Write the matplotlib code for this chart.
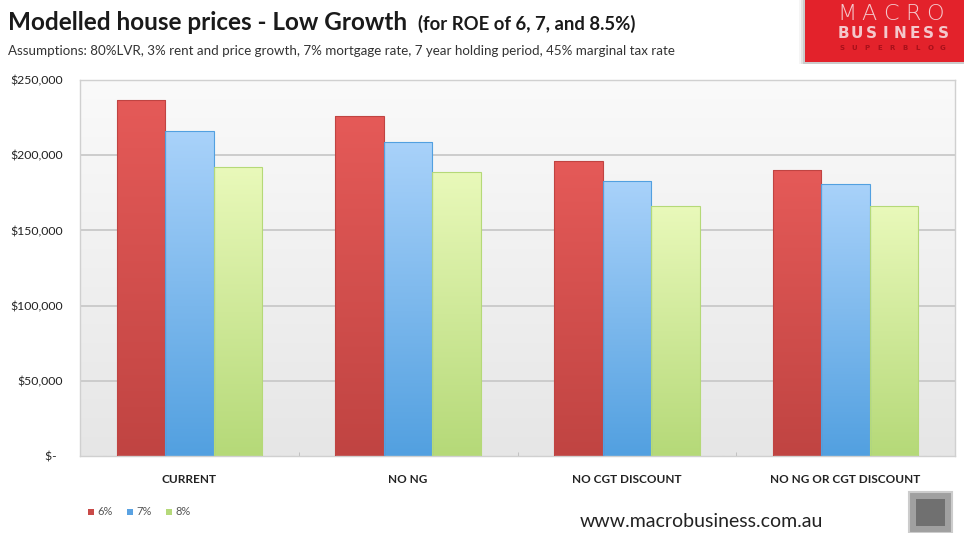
import numpy as np
import matplotlib
matplotlib.use("Agg")
import matplotlib.pyplot as plt
from matplotlib.colors import LinearSegmentedColormap
from matplotlib.patches import Rectangle

# ---- data ----
categories = ["CURRENT", "NO NG", "NO CGT DISCOUNT", "NO NG OR CGT DISCOUNT"]
series_names = ["6%", "7%", "8%"]
roe_6 = [237000, 226000, 196000, 190000]
roe_7 = [216000, 209000, 183000, 181000]
roe_8 = [192000, 189000, 166000, 166000]
ytick_values = [0, 50000, 100000, 150000, 200000, 250000]
ytick_labels = ["$-  ", "$50,000", "$100,000", "$150,000", "$200,000", "$250,000"]

series = [roe_6, roe_7, roe_8]
# (top colour, bottom colour, legend colour)
palette = [
    ("#e55a58", "#c04442", "#c94a48"),
    ("#a9d2fa", "#52a0e0", "#5aa2e2"),
    ("#e9f9ba", "#b5d978", "#b5d97a"),
]

plt.rcParams["font.family"] = ["Lato", "DejaVu Sans"]

W, H = 964, 533
fig = plt.figure(figsize=(W / 100, H / 100), dpi=100)
fig.patch.set_facecolor("white")


def px(x, y, w, h):
    return [x / W, 1 - (y + h) / H, w / W, h / H]


ax = fig.add_axes(px(80, 80, 875, 376))
n_cat = len(categories)
x = np.arange(n_cat)
bw = 0.222

ax.set_xlim(-0.5, n_cat - 0.5)
ax.set_ylim(0, 250000)

# plot area background gradient
bg = np.linspace(0, 1, 256).reshape(-1, 1)
bg_cmap = LinearSegmentedColormap.from_list("bg", ["#e6e6e6", "#fafafa"])
ax.imshow(bg, extent=[-0.5, n_cat - 0.5, 0, 250000], aspect="auto",
          cmap=bg_cmap, origin="lower", zorder=0)

for v in ytick_values[1:]:
    ax.axhline(v, color="#c9c9c9", lw=1.3, zorder=1)

grad = np.linspace(0, 1, 256).reshape(-1, 1)
for i, vals in enumerate(series):
    top, bot, _ = palette[i]
    cmap = LinearSegmentedColormap.from_list(f"s{i}", [bot, top])
    bars = ax.bar(x + (i - 1) * bw, vals, width=bw, color="none",
                  edgecolor=bot, lw=0.8, zorder=3)
    for p in bars.patches:
        x0, w0, h0 = p.get_x(), p.get_width(), p.get_height()
        im = ax.imshow(grad, extent=[x0, x0 + w0, 0, h0], aspect="auto",
                       cmap=cmap, origin="lower", zorder=2)
        im.set_clip_path(p)

ax.set_yticks(ytick_values)
ax.set_yticklabels(ytick_labels, fontsize=8.8, color="#222222")
ax.set_xticks(x)
ax.set_xticklabels(categories, fontsize=8.5, fontweight="bold", color="#222222")
ax.tick_params(axis="y", length=0, pad=12)
ax.tick_params(axis="x", length=0, pad=13)
# small marks at category boundaries
ax.set_xticks(np.arange(0.5, n_cat - 0.5, 1.0), minor=True)
ax.tick_params(axis="x", which="minor", length=3, direction="in", color="#bbbbbb")
for s in ax.spines.values():
    s.set_color("#d0d0d0")
    s.set_linewidth(1.0)

# ---- titles ----
fig.text(8 / W, 1 - 30 / H, "Modelled house prices - Low Growth", fontsize=17.5,
         fontweight="bold", color="#1a1a1a", ha="left", va="baseline")
fig.text(418 / W, 1 - 30 / H, "(for ROE of 6, 7, and 8.5%)", fontsize=13.3,
         fontweight="bold", color="#1a1a1a", ha="left", va="baseline")
fig.text(8 / W, 1 - 55 / H,
         "Assumptions: 80%LVR, 3% rent and price growth, 7% mortgage rate, "
         "7 year holding period, 45% marginal tax rate",
         fontsize=9.6, color="#333333", ha="left", va="baseline")

# ---- legend ----
lx = 88
for i, name in enumerate(series_names):
    fig.patches.append(Rectangle(((lx) / W, 1 - 515 / H), 6 / W, 6 / H,
                                 transform=fig.transFigure,
                                 facecolor=palette[i][2], edgecolor="none"))
    fig.text((lx + 9) / W, 1 - 515 / H, name, fontsize=8, color="#555555",
             ha="left", va="baseline")
    lx += 39

# ---- footer ----
fig.text(580 / W, 1 - 527 / H, "www.macrobusiness.com.au", fontsize=14,
         color="#222222", ha="left", va="baseline")
fig.patches.append(Rectangle((909 / W, 1 - 533 / H), 43 / W, 41 / H,
                             transform=fig.transFigure, facecolor="#a0a0a0",
                             edgecolor="#cccccc", lw=1.5))
fig.patches.append(Rectangle((916 / W, 1 - 526 / H), 29 / W, 27 / H,
                             transform=fig.transFigure, facecolor="#707070",
                             edgecolor="none"))

# ---- logo ----
for k, a in enumerate([0.04, 0.07, 0.10]):
    fig.patches.append(Rectangle(((799 + 2 * k) / W, 1 - 64 / H), 170 / W, 64 / H,
                                 transform=fig.transFigure, facecolor="#000000",
                                 alpha=a, edgecolor="none"))
fig.patches.append(Rectangle((805 / W, 1 - 62 / H), 159 / W, 62 / H,
                             transform=fig.transFigure, facecolor="#e3222b",
                             edgecolor="none"))
logo_top = "MACRO"
for j, ch in enumerate(logo_top):
    fig.text((847 + 22 * j) / W, 1 - 20 / H, ch, fontsize=16, color="#f4c8cc",
             ha="center", va="baseline", family="DejaVu Sans",
             fontweight="light")
logo_mid = "BUSINESS"
for j, ch in enumerate(logo_mid):
    fig.text((843 + 14.3 * j) / W, 1 - 38 / H, ch, fontsize=11, color="#f4c8cc",
             ha="center", va="baseline", fontweight="bold", family="DejaVu Sans")
logo_low = "SUPERBLOG"
for j, ch in enumerate(logo_low):
    fig.text((842 + 12.6 * j) / W, 1 - 50 / H, ch, fontsize=5, color="#a8101a",
             ha="center", va="baseline", fontweight="bold", family="DejaVu Sans")

fig.savefig("out.png", dpi=100)
